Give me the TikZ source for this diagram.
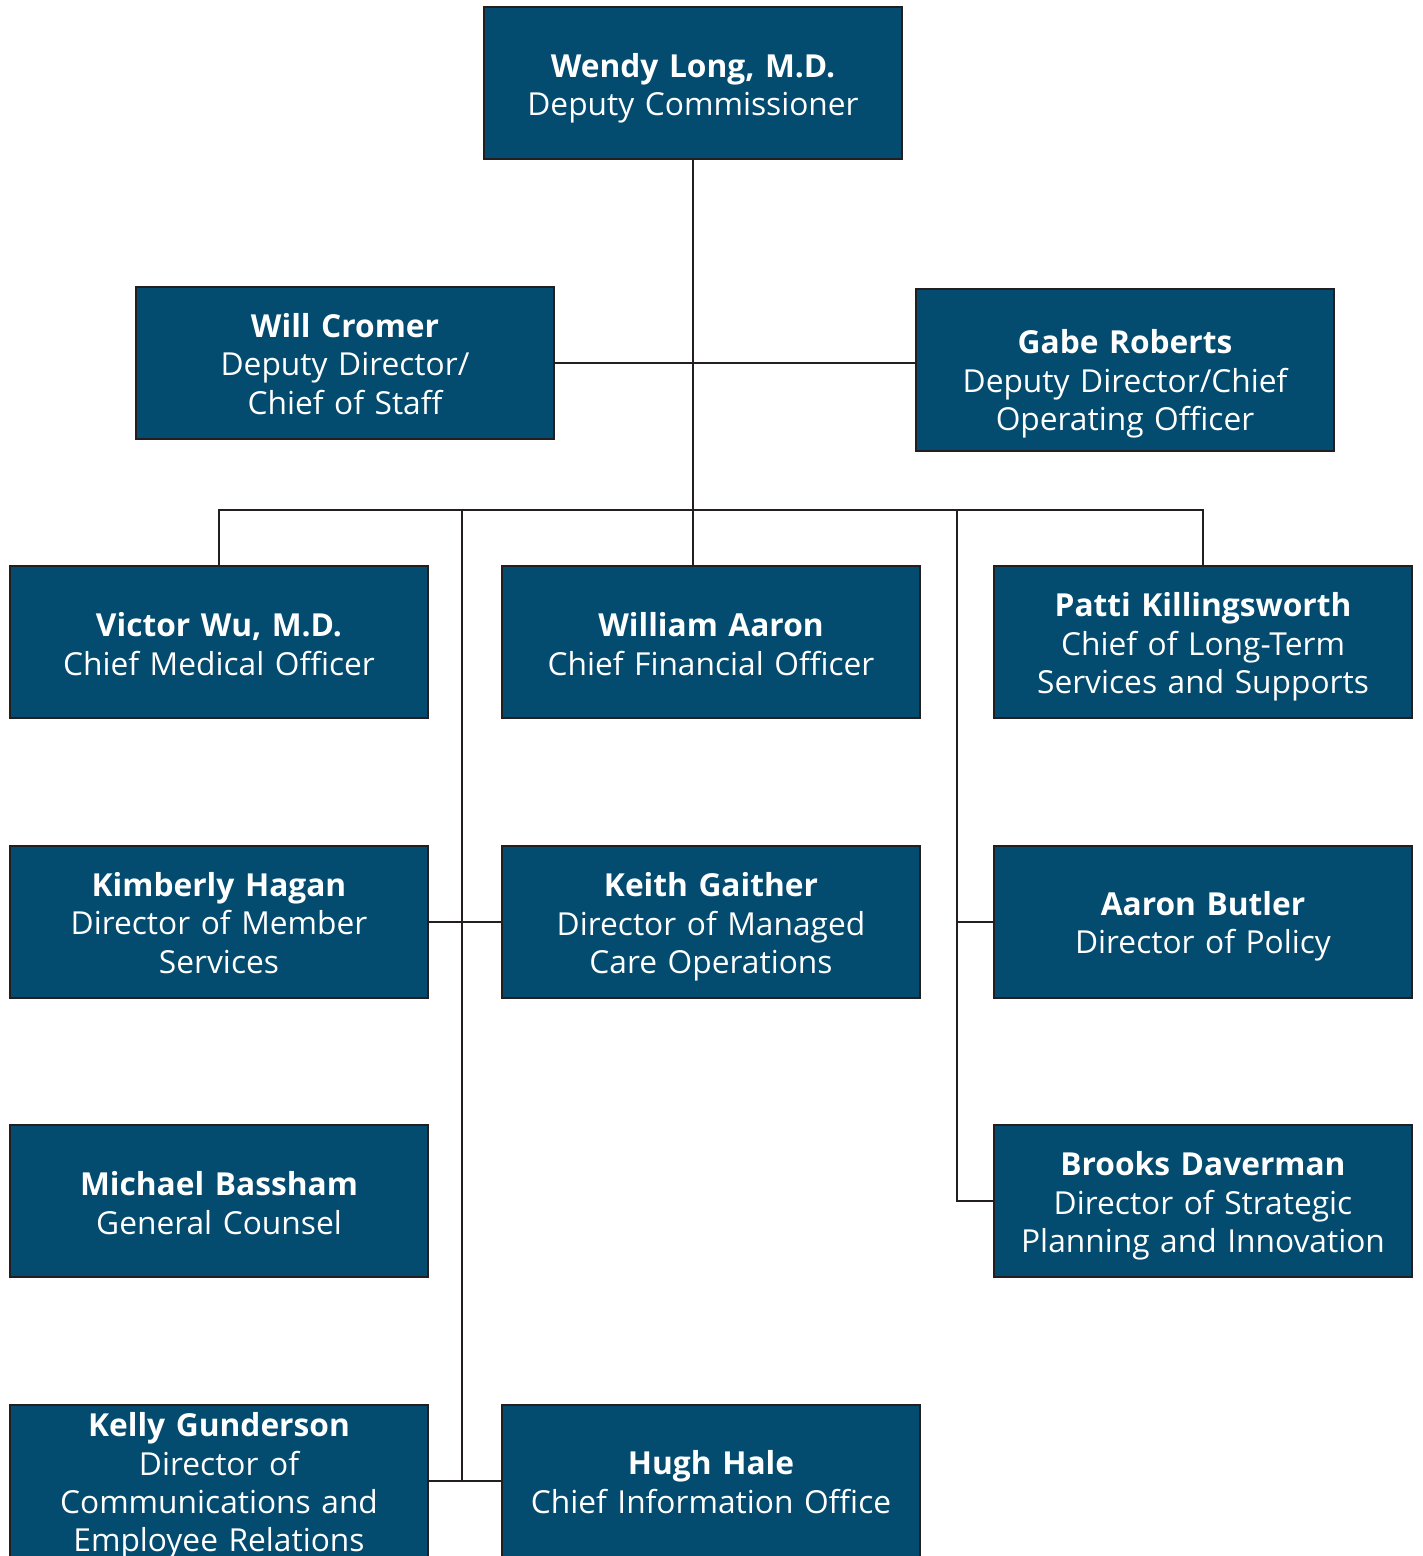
\documentclass[tikz,border=0pt]{standalone}
\usepackage{fontspec}
\setmainfont{Open Sans}
\definecolor{boxblue}{RGB}{3,75,111}
\definecolor{linegray}{RGB}{35,31,32}
% #1 name, #2 x, #3 y, #4 text shift down, #5 text, #6 extra options
\newcommand\orgbox[6][]{%
  \node[box,#1] (#2) at (#3,#4) {};
  \node[txt] (#2-t) at ([yshift=-#5pt]#2.center) {#6};}
\begin{document}
\begin{tikzpicture}[x=1pt,y=-1pt,
  box/.style={draw=linegray, line width=2.5pt, fill=boxblue,
    minimum width=418pt, minimum height=152pt, inner sep=0pt},
  txt/.style={text=white, inner sep=0pt, align=center,
    font=\fontsize{31.7}{38.3}\selectfont, text width=414pt},
  conn/.style={draw=linegray, line width=2.2pt}]
\useasboundingbox (0,0) rectangle (1423,1556);
\orgbox{wendy}{693}{83}{5}{\textbf{Wendy Long, M.D.}\\Deputy Commissioner}
\orgbox{will}{345}{363}{1}{\textbf{Will Cromer}\\Deputy Director/\\Chief of Staff}
\orgbox[minimum height=162pt]{gabe}{1125}{370}{14}{\textbf{Gabe Roberts}\\Deputy Director/Chief\\Operating Officer}
\orgbox{victor}{219}{642}{2}{\textbf{Victor Wu, M.D.}\\Chief Medical Officer}
\orgbox{william}{711}{642}{2}{\textbf{William Aaron}\\Chief Financial Officer}
\orgbox{patti}{1203}{642}{5}{\textbf{Patti Killingsworth}\\Chief of Long-Term\\Services and Supports}
\orgbox{kimberly}{219}{922}{1}{\textbf{Kimberly Hagan}\\Director of Member\\Services}
\orgbox{keith}{711}{922}{5}{\textbf{Keith Gaither}\\Director of Managed\\Care Operations}
\orgbox{aaron}{1203}{922}{4}{\textbf{Aaron Butler}\\Director of Policy}
\orgbox{michael}{219}{1201}{2}{\textbf{Michael Bassham}\\General Counsel}
\orgbox{brooks}{1203}{1201}{5}{\textbf{Brooks Daverman}\\Director of Strategic\\Planning and Innovation}
\orgbox{kelly}{219}{1481}{5}{\textbf{Kelly Gunderson}\\Director of\\Communications and\\Employee Relations}
\orgbox{hugh}{711}{1481}{1}{\textbf{Hugh Hale}\\Chief Information Office}
\coordinate (bus) at (693,510);
\coordinate (lv) at (462,510);
\coordinate (rv) at (957,510);
\draw[conn] (wendy.south) -- (wendy.south |- william.north);
\draw[conn] (will.east) -- (gabe.west |- will.east);
\draw[conn] (victor.north) -- (victor.north |- bus) -| (patti.north);
\draw[conn] (lv) -- (lv |- kelly.east);
\draw[conn] (kimberly.east) -- (keith.west);
\draw[conn] (kelly.east) -- (hugh.west);
\draw[conn] (rv) -- (rv |- brooks.west) -- (brooks.west);
\draw[conn] (rv |- aaron.west) -- (aaron.west);
\end{tikzpicture}
\end{document}
